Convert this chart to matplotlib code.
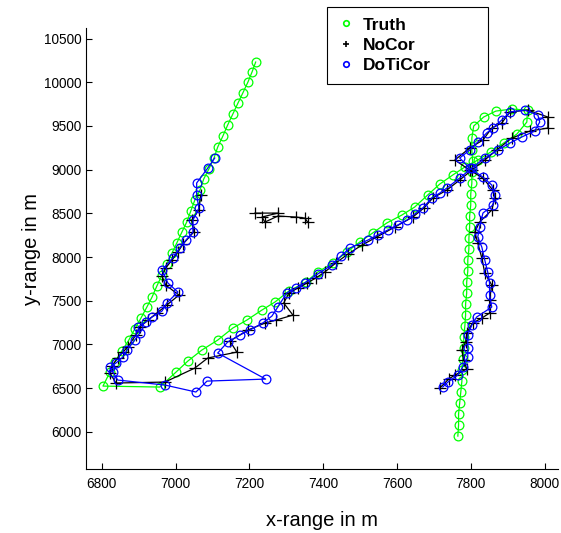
import numpy as np
import matplotlib
matplotlib.use("Agg")
import matplotlib.pyplot as plt
from matplotlib.lines import Line2D

# true track
truth_x = [7217, 7207, 7196, 7182, 7169, 7155, 7141, 7128, 7114, 7104, 7090, 7076, 7066, 7052, 7041, 7030,
           7017, 7003, 6990, 6976, 6963, 6949, 6936, 6922, 6906, 6889, 6873, 6854, 6835, 6822, 6803,
           6957, 7001, 7033, 7071, 7114, 7155, 7193, 7234, 7269, 7307, 7353, 7385, 7426, 7464, 7499, 7534,
           7572, 7613, 7648, 7683, 7716, 7751, 7784, 7819, 7854, 7889, 7925, 7952, 7954, 7911, 7868, 7835,
           7808, 7803, 7803, 7805, 7803, 7803, 7800, 7800, 7797, 7797, 7795, 7795, 7792, 7792, 7789, 7789,
           7786, 7786, 7784, 7781, 7781, 7778, 7776, 7776, 7773, 7770, 7767, 7767, 7765]
truth_y = [10231, 10116, 10002, 9876, 9762, 9636, 9510, 9384, 9258, 9133, 9007, 8892, 8766, 8652, 8526, 8400,
           8286, 8160, 8046, 7920, 7794, 7668, 7542, 7428, 7302, 7176, 7050, 6925, 6799, 6684, 6524,
           6513, 6684, 6810, 6936, 7050, 7188, 7279, 7394, 7485, 7611, 7714, 7828, 7931, 8057, 8172, 8275,
           8389, 8480, 8572, 8709, 8835, 8938, 9030, 9110, 9201, 9304, 9407, 9544, 9682, 9693, 9670, 9602,
           9499, 9361, 9224, 9098, 8972, 8847, 8721, 8595, 8469, 8343, 8217, 8092, 7966, 7840, 7714, 7588,
           7462, 7336, 7211, 7085, 6959, 6833, 6707, 6581, 6455, 6330, 6204, 6078, 5952]

# estimate without time correction
nocor_x = [7068, 7063, 7044, 7049, 7020, 7006, 6990, 6973, 6963, 6973, 7009, 6976, 6949, 6925, 6903, 6892,
           6870, 6857, 6843, 6827, 6822, 6838, 6971,
           7052, 7087, 7166, 7147, 7196, 7242, 7272, 7318, 7293, 7307, 7331, 7356, 7380, 7404, 7434, 7467,
           7505, 7545, 7594, 7643, 7673, 7697, 7735, 7770, 7803, 7838, 7870, 7911, 7960, 8009, 8009, 7954,
           7906, 7884, 7857, 7833, 7797, 7757, 7797, 7833, 7860, 7865, 7857, 7824, 7811, 7819, 7830, 7838,
           7857, 7851, 7851, 7830, 7805, 7789, 7786, 7776, 7781, 7789, 7757, 7740, 7716]
nocor_y = [8709, 8538, 8423, 8286, 8149, 8057, 7966, 7874, 7783, 7680, 7565, 7451, 7359, 7279, 7199, 7108,
           6970, 6913, 6845, 6753, 6673, 6559, 6570,
           6730, 6845, 6913, 7039, 7165, 7245, 7279, 7336, 7474, 7588, 7645, 7703, 7760, 7828, 7931, 8034,
           8137, 8229, 8343, 8458, 8561, 8675, 8766, 8881, 8995, 9110, 9224, 9361, 9441, 9476, 9602, 9682,
           9659, 9533, 9476, 9338, 9247, 9110, 8995, 8904, 8766, 8675, 8538, 8400, 8286, 8160, 7989, 7817,
           7680, 7508, 7359, 7302, 7245, 7131, 7028, 6936, 6822, 6719, 6650, 6604, 6501]

# stray NoCor fixes, separate piece of track
stray_x = [7215, 7277, 7234, 7242, 7277, 7326, 7350, 7358]
stray_y = [8503, 8503, 8458, 8400, 8469, 8458, 8446, 8400]

# estimate with time correction
doticor_x = [7106, 7087, 7057, 7057, 7063, 7047, 7047, 7028, 7011, 6992, 6963, 6979, 7006, 6976, 6963, 6936,
             6919, 6898, 6903, 6889, 6868, 6857, 6838, 6822, 6830, 6843, 6971, 7055, 7085, 7244,
             7114, 7141, 7174, 7201, 7236, 7261, 7277, 7301, 7326, 7350, 7385, 7423, 7448, 7472, 7521, 7548,
             7575, 7602, 7627, 7648, 7670, 7694, 7716, 7735, 7770, 7803, 7838, 7873, 7906, 7938, 7973, 7987,
             7982, 7946, 7906, 7884, 7860, 7843, 7819, 7797, 7770, 7797, 7833, 7857, 7865, 7860, 7833, 7824,
             7819, 7830, 7838, 7846, 7851, 7851, 7857, 7816, 7803, 7792, 7792, 7792, 7778, 7765, 7738, 7724]
doticor_y = [9133, 9018, 8847, 8709, 8561, 8423, 8286, 8194, 8103, 7989, 7851, 7703, 7600, 7474, 7382, 7314,
             7256, 7199, 7131, 7050, 6936, 6856, 6787, 6742, 6684, 6593, 6536, 6456, 6581, 6604,
             6902, 7028, 7108, 7165, 7245, 7325, 7428, 7588, 7645, 7703, 7806, 7908, 8011, 8103, 8194, 8252,
             8309, 8366, 8423, 8492, 8561, 8675, 8732, 8789, 8904, 9018, 9133, 9224, 9304, 9373, 9441, 9544,
             9624, 9682, 9659, 9567, 9476, 9419, 9316, 9224, 9133, 9018, 8915, 8824, 8709, 8595, 8503, 8343,
             8229, 8114, 7966, 7828, 7703, 7565, 7428, 7314, 7222, 7108, 6959, 6856, 6742, 6650, 6570, 6513]

plt.rcParams["font.family"] = ["Liberation Sans", "DejaVu Sans"]

fig = plt.figure(figsize=(5.61, 5.33), dpi=100)
ax = fig.add_axes([0.1533, 0.120, 0.841, 0.8274])

ax.plot(truth_x, truth_y, "-o", color="#00ff00", mfc="none", ms=6.3, mew=0.9, lw=0.9)
ax.plot(nocor_x, nocor_y, "-+", color="black", ms=8, mew=0.9, lw=0.9)
ax.plot(stray_x, stray_y, "-+", color="black", ms=8, mew=0.9, lw=0.9)
ax.plot(doticor_x, doticor_y, "-o", color="#0000ff", mfc="none", ms=6.3, mew=0.9, lw=0.9)

ax.set_xlim(6757, 8036)
ax.set_ylim(5575, 10620)
ax.set_xticks(np.arange(6800, 8001, 200))
ax.set_yticks(np.arange(6000, 10501, 500))
ax.tick_params(direction="in", length=4, width=0.8, labelsize=9.8, pad=3)
ax.tick_params(axis="x", pad=6)
ax.spines["top"].set_visible(False)
ax.spines["right"].set_visible(False)

ax.set_xlabel("x-range in m", fontsize=14.5, labelpad=14)
ax.set_ylabel("y-range in m", fontsize=14.5, labelpad=2)

handles = [Line2D([], [], ls="none", marker="o", color="#00ff00", mfc="none", ms=4, mew=1.2),
           Line2D([], [], ls="none", marker="+", color="black", ms=5, mew=1.2),
           Line2D([], [], ls="none", marker="o", color="#0000ff", mfc="none", ms=4, mew=1.2)]
leg = fig.legend(handles, ["Truth", "NoCor", "DoTiCor"], loc="upper left",
                 bbox_to_anchor=(327 / 561, 1 - 83 / 533, 161 / 561, 76 / 533), mode="expand",
                 prop={"weight": "bold", "size": 12.5},
                 fancybox=False, framealpha=1, edgecolor="black", handlelength=1.0,
                 handletextpad=0.45, borderpad=0.6, labelspacing=0.3, borderaxespad=0)
leg.get_frame().set_linewidth(0.8)

fig.savefig("out.png", dpi=100)
